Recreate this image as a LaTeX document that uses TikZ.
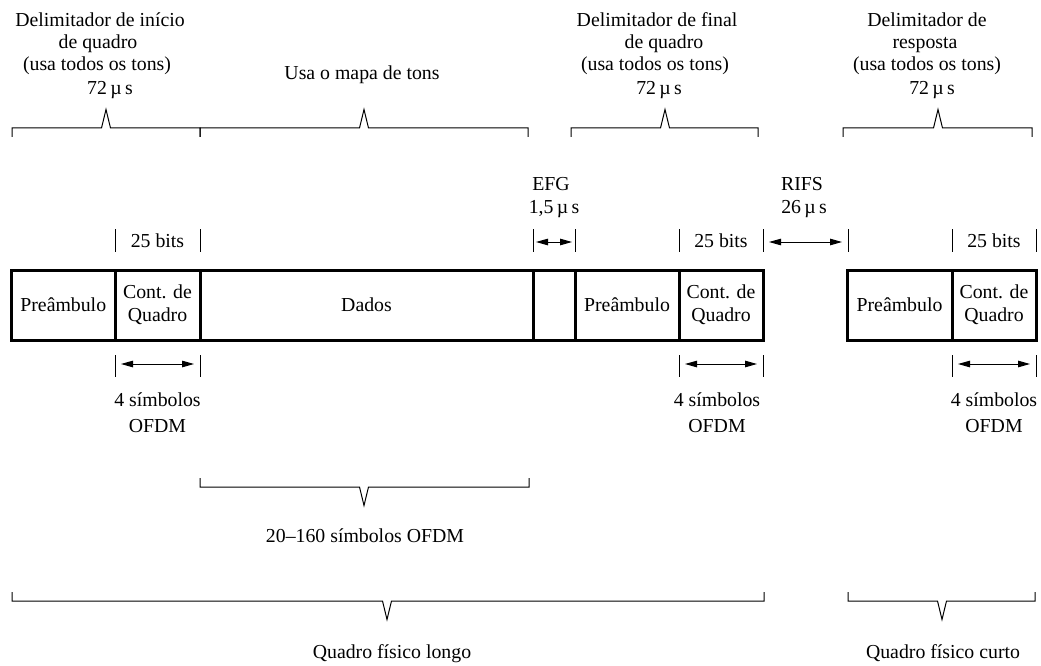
\documentclass[tikz,border=0pt]{standalone}
\usepackage{fontspec}
\setmainfont{Liberation Serif}
\usetikzlibrary{arrows.meta}
\newcommand\diafont{\fontsize{19.8}{22.7}\selectfont}
\newcommand\brk[5]{%
  \draw[rule] ({#1},{#4+(#5)*9}) -- ({#1},{#4}) -- ({#3-4.5},{#4}) -- ({#3},{#4-(#5)*18.5}) -- ({#3+4.5},{#4}) -- ({#2},{#4}) -- ({#2},{#4+(#5)*9});}
\tikzset{
  cell/.style={draw, line width=3pt, minimum height=70pt, inner sep=0pt, outer sep=0pt, align=center, font=\diafont},
  rule/.style={line width=1pt, line join=miter},
  dim/.style={line width=1pt, {Triangle[length=12pt,width=6.5pt]}-{Triangle[length=12pt,width=6.5pt]}},
  lbl/.style={anchor=base, inner sep=0pt, font=\diafont},
}
\begin{document}
\begin{tikzpicture}[x=1pt,y=-1pt]
\useasboundingbox (0,0) rectangle (1041,666);
% frame boxes
\node[cell, minimum width=103.5pt] (pre1) at (63.25,305) {Preâmbulo};
\node[cell, minimum width=85pt] (cont1) at (157.5,305) {Cont. de\\Quadro};
\node[cell, minimum width=333pt] (dados) at (366.5,305) {Dados};
\node[cell, minimum width=42pt] (efg) at (554,305) {};
\node[cell, minimum width=104pt] (pre2) at (627,305) {Preâmbulo};
\node[cell, minimum width=84pt] (cont2) at (721,305) {Cont. de\\Quadro};
\node[cell, minimum width=105pt] (pre3) at (899.5,305) {Preâmbulo};
\node[cell, minimum width=84pt] (cont3) at (994,305) {Cont. de\\Quadro};
% top braces
\brk{12}{200}{106}{128}{1}
\brk{200}{528}{364}{128}{1}
\brk{571}{758}{665}{128}{1}
\brk{843}{1032}{938}{128}{1}
% top labels
\node[lbl] (t1a) at (100,27) {Delimitador de início};
\node[lbl] (t1b) at (98,49) {de quadro};
\node[lbl] (t1c) at (97,71) {(usa todos os tons)};
\node[lbl] (t1d) at (110,95) {72\,µ\,s};
\node[lbl] (t2) at (362,80) {Usa o mapa de tons};
\node[lbl] (t3a) at (657,27) {Delimitador de final};
\node[lbl] (t3b) at (664,49) {de quadro};
\node[lbl] (t3c) at (655,71) {(usa todos os tons)};
\node[lbl] (t3d) at (659,95) {72\,µ\,s};
\node[lbl] (t4a) at (927,27) {Delimitador de};
\node[lbl] (t4b) at (925,49) {resposta};
\node[lbl] (t4c) at (927,71) {(usa todos os tons)};
\node[lbl] (t4d) at (932,95) {72\,µ\,s};
% gaps
\node[lbl] (efgA) at (551,190) {EFG};
\node[lbl] (efgB) at (554,213) {1,5\,µ\,s};
\node[lbl] (rifsA) at (802,190) {RIFS};
\node[lbl] (rifsB) at (804,213) {26\,µ\,s};
% upper ticks
\foreach \x in {115,200,533,575,679,763,848,952,1036}
  \draw[rule] (\x,229) -- (\x,252);
\node[lbl] (b1) at (157.5,247) {25 bits};
\node[lbl] (b2) at (721,247) {25 bits};
\node[lbl] (b3) at (994,247) {25 bits};
\coordinate (ea) at (536,242);
\coordinate (eb) at (572,242);
\coordinate (ra) at (769,242);
\coordinate (rb) at (842,242);
\draw[dim] (ea) -- (eb);
\draw[dim] (ra) -- (rb);
% lower ticks
\foreach \x in {115,200,679,763,952,1036}
  \draw[rule] (\x,355) -- (\x,377);
\coordinate (s1a) at (121,364);
\coordinate (s1b) at (194,364);
\coordinate (s2a) at (685,364);
\coordinate (s2b) at (757,364);
\coordinate (s3a) at (958,364);
\coordinate (s3b) at (1030,364);
\draw[dim] (s1a) -- (s1b);
\draw[dim] (s2a) -- (s2b);
\draw[dim] (s3a) -- (s3b);
\node[lbl] (o1a) at (157.5,406) {4 símbolos};
\node[lbl] (o1b) at (157.5,432) {OFDM};
\node[lbl] (o2a) at (717,406) {4 símbolos};
\node[lbl] (o2b) at (717,432) {OFDM};
\node[lbl] (o3a) at (994,406) {4 símbolos};
\node[lbl] (o3b) at (994,432) {OFDM};
% bottom braces
\brk{200}{529}{364}{487}{-1}
\node[lbl] (sym) at (365,542) {20\textendash 160 símbolos OFDM};
\brk{12}{764}{387}{601}{-1}
\brk{848}{1035}{942}{601}{-1}
\node[lbl] (longo) at (392,658) {Quadro físico longo};
\node[lbl] (curto) at (943,658) {Quadro físico curto};
\end{tikzpicture}
\end{document}
